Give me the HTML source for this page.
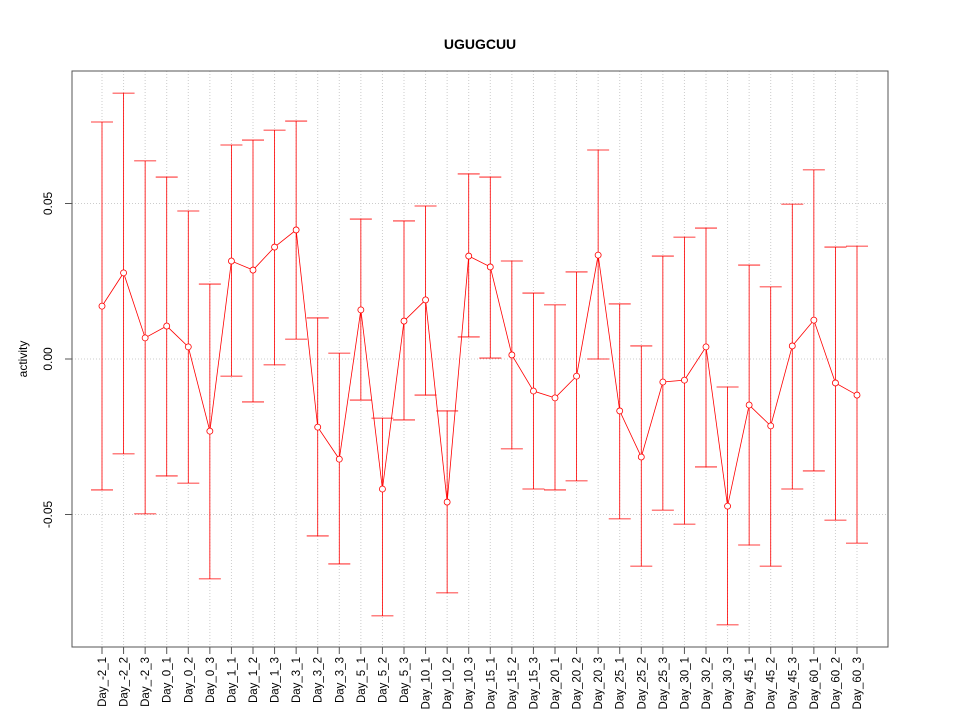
<!DOCTYPE html>
<html><head><meta charset="utf-8"><style>
body{margin:0;background:#fff;}
svg{display:block;font-family:"Liberation Sans",sans-serif;}
</style></head><body>
<svg id="chart" width="960" height="720">
<text x="480" y="49" text-anchor="middle" font-size="14" font-weight="bold">UGUGCUU</text>
<text transform="translate(27,359) rotate(-90)" text-anchor="middle" font-size="12">activity</text>
<g id="grid"></g><g id="marks"></g><g id="axes"></g>
<rect x="72" y="71" width="816" height="576" fill="none" stroke="#555" stroke-width="1"/>
</svg>
<script>
const categories=["Day_-2_1","Day_-2_2","Day_-2_3","Day_0_1","Day_0_2","Day_0_3","Day_1_1","Day_1_2","Day_1_3","Day_3_1","Day_3_2","Day_3_3","Day_5_1","Day_5_2","Day_5_3","Day_10_1","Day_10_2","Day_10_3","Day_15_1","Day_15_2","Day_15_3","Day_20_1","Day_20_2","Day_20_3","Day_25_1","Day_25_2","Day_25_3","Day_30_1","Day_30_2","Day_30_3","Day_45_1","Day_45_2","Day_45_3","Day_60_1","Day_60_2","Day_60_3"];
const means=[0.0170,0.0277,0.0068,0.0106,0.0039,-0.0232,0.0315,0.0286,0.0360,0.0415,-0.0219,-0.0322,0.0158,-0.0418,0.0122,0.0190,-0.0460,0.0331,0.0296,0.0013,-0.0103,-0.0125,-0.0055,0.0334,-0.0167,-0.0315,-0.0074,-0.0068,0.0039,-0.0473,-0.0148,-0.0215,0.0042,0.0125,-0.0077,-0.0116];
const upper=[0.0762,0.0855,0.0637,0.0585,0.0476,0.0241,0.0688,0.0704,0.0736,0.0765,0.0132,0.0019,0.0450,-0.0190,0.0444,0.0492,-0.0167,0.0595,0.0585,0.0315,0.0212,0.0174,0.0280,0.0672,0.0177,0.0042,0.0331,0.0392,0.0421,-0.0090,0.0302,0.0232,0.0498,0.0608,0.0360,0.0363];
const lower=[-0.0421,-0.0305,-0.0498,-0.0376,-0.0399,-0.0707,-0.0055,-0.0138,-0.0019,0.0064,-0.0569,-0.0659,-0.0132,-0.0826,-0.0196,-0.0116,-0.0752,0.0071,0.0003,-0.0289,-0.0418,-0.0421,-0.0392,0.0000,-0.0514,-0.0666,-0.0486,-0.0531,-0.0347,-0.0855,-0.0598,-0.0666,-0.0418,-0.0360,-0.0518,-0.0592];
const yTicks=[-0.05,0,0.05];
const yTickLabels=["-0.05","0.00","0.05"];
const NS="http://www.w3.org/2000/svg";
const x=i=>102+i*(857-102)/(categories.length-1);
const y=v=>359-v*3110;
function mk(tag,attrs,parent){const e=document.createElementNS(NS,tag);for(const k in attrs)e.setAttribute(k,attrs[k]);document.getElementById(parent).appendChild(e);return e;}
categories.forEach((c,i)=>{
 const g=mk("line",{x1:x(i),x2:x(i),y1:71,y2:647,stroke:"#ccc","stroke-dasharray":"1,2"},"grid");
 
 
 const t=mk("line",{x1:x(i),x2:x(i),y1:647,y2:654,stroke:"#555"},"axes");
 
 
 const l=mk("text",{transform:`translate(${x(i)+4},657) rotate(-90)`,"text-anchor":"end","font-size":"11.5"},"axes");
 l.textContent=c;
 
 
});
yTicks.forEach((v,i)=>{
 const g=mk("line",{x1:72,x2:888,y1:y(v),y2:y(v),stroke:"#ccc","stroke-dasharray":"1,2"},"grid");
 
 
 const t=mk("line",{x1:65,x2:72,y1:y(v),y2:y(v),stroke:"#555"},"axes");
 
 
 const l=mk("text",{transform:`translate(52,${y(v)}) rotate(-90)`,"text-anchor":"middle","font-size":"12"},"axes");
 l.textContent=yTickLabels[i];
 
 
});
means.forEach((m,i)=>{
 const eb=mk("path",{d:`M${x(i)},${y(upper[i])}V${y(lower[i])}M${x(i)-11},${y(upper[i])}H${x(i)+11}M${x(i)-11},${y(lower[i])}H${x(i)+11}`,stroke:"red",fill:"none","stroke-width":"0.8"},"marks");
 
 
});
const pts=means.map((m,i)=>x(i)+","+y(m)).join(" ");
const pl=mk("polyline",{points:pts,fill:"none",stroke:"red","stroke-width":"0.8"},"marks");


means.forEach((m,i)=>{
 const c=mk("circle",{cx:x(i),cy:y(m),r:3,fill:"#fff",stroke:"red","stroke-width":"0.8"},"marks");
 
 
});
</script>
</body></html>
